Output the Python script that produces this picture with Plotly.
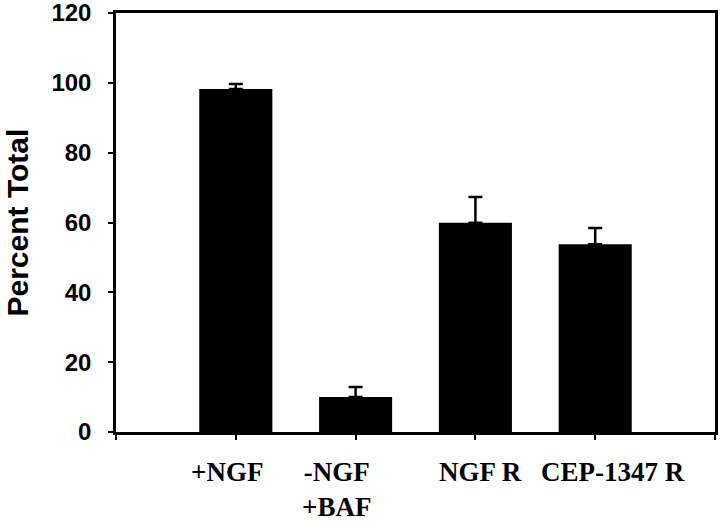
import plotly.graph_objects as go

# data
groups = ["+NGF", "-NGF<br>+BAF", "NGF R", "CEP-1347 R"]
group_pos = [1, 2, 3, 4]
percent_total = [98.2, 10.0, 59.9, 53.8]
sem_upper = [1.5, 2.9, 7.4, 4.6]
y_ticks = [0, 20, 40, 60, 80, 100, 120]

# hand-placed category labels in the original sit a little off the ticks
label_shift = [-9, -19, 5, 18]

fig = go.Figure()

fig.add_trace(go.Bar(
    x=group_pos,
    y=percent_total,
    width=0.61,
    marker=dict(color="black", line=dict(width=0)),
    error_y=dict(
        type="data",
        symmetric=False,
        array=sem_upper,
        arrayminus=[0] * len(sem_upper),
        color="black",
        thickness=2.5,
        width=7,
    ),
    showlegend=False,
))

for pos, text, shift in zip(group_pos, groups, label_shift):
    fig.add_annotation(
        x=pos, y=0, xref="x", yref="paper",
        text=text, showarrow=False,
        yanchor="top", yshift=-23, xshift=shift,
        font=dict(family="Liberation Serif", size=27, color="black", weight="bold"),
    )

# y title as an annotation: axis title standoff is ignored without automargin
fig.add_annotation(
    x=0, y=0.5, xref="paper", yref="paper",
    text="Percent Total", textangle=-90, showarrow=False,
    xanchor="center", yanchor="middle", xshift=-99,
    font=dict(family="Liberation Sans", size=30, color="black", weight="bold"),
)

fig.update_layout(
    width=720,
    height=521,
    margin=dict(l=116, r=5, t=13, b=89),
    paper_bgcolor="white",
    plot_bgcolor="white",
    xaxis=dict(
        range=[0, 5],
        tickvals=[0, 1, 2, 3, 4, 5],
        showticklabels=False,
        ticks="outside",
        ticklen=5,
        tickwidth=1.5,
        tickcolor="black",
        showline=True,
        linecolor="black",
        linewidth=2.5,
        mirror=True,
        showgrid=False,
        zeroline=False,
        automargin=False,
    ),
    yaxis=dict(
        range=[0, 120],
        tickvals=y_ticks,
        ticks="outside",
        ticklen=5,
        tickwidth=1.5,
        tickcolor="black",
        tickfont=dict(family="Liberation Sans", size=24, color="black", weight="bold"),
        ticklabelstandoff=12,
        ticklabeloverflow="allow",
        showline=True,
        linecolor="black",
        linewidth=2.5,
        mirror=True,
        showgrid=False,
        zeroline=False,
        automargin=False,
    ),
)

# drop the browser's default body margin so the figure fills the window
fig.write_html(
    "out.html",
    config={"displayModeBar": False},
    post_script="document.body.style.margin = '0';",
)
